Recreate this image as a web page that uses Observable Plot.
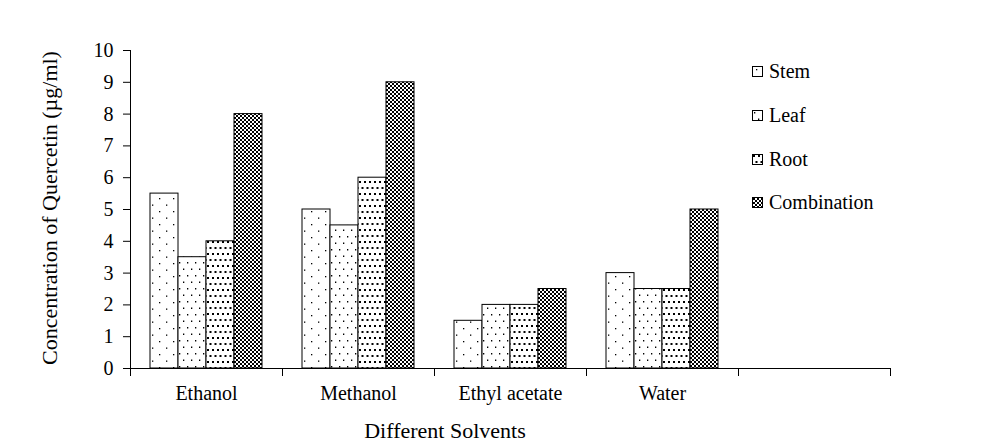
<!DOCTYPE html>
<html>
<head>
<meta charset="utf-8">
<script src="https://cdn.jsdelivr.net/npm/d3@7"></script>
<script src="https://cdn.jsdelivr.net/npm/@observablehq/plot@0.6"></script>
<style>
  html, body { margin: 0; padding: 0; background: #fff; }
  #wrap { position: relative; width: 987px; height: 447px; }
  .legend { position: absolute; left: 752px; top: 50px; font-family: "Liberation Serif", "Times New Roman", serif; font-size: 20px; color: #000; }
  .legend .item { display: flex; align-items: center; height: 43.7px; }
  .legend svg { margin-right: 5px; }
</style>
</head>
<body>
<div id="wrap"></div>
<script>
const solvents = ["Ethanol", "Methanol", "Ethyl acetate", "Water", " "];
const parts = ["Stem", "Leaf", "Root", "Combination"];
const stem = [5.5, 5.0, 1.5, 3.0];
const leaf = [3.5, 4.5, 2.0, 2.5];
const root = [4.0, 6.0, 2.0, 2.5];
const combination = [8.0, 9.0, 2.5, 5.0];
const yTicks = [0, 1, 2, 3, 4, 5, 6, 7, 8, 9, 10];
const yTitle = "Concentration of Quercetin (µg/ml)";
const xTitle = "Different Solvents";

const series = [stem, leaf, root, combination];
const data = [];
solvents.slice(0, 4).forEach((s, i) => {
  parts.forEach((p, j) => data.push({solvent: s, part: p, value: series[j][i]}));
});

const patternIds = ["pStem", "pLeaf", "pRoot", "pComb"];
const urls = patternIds.map(id => `url(#${id})`);
const serif = "'Liberation Serif', 'Times New Roman', serif";

const plot = Plot.plot({
  width: 987,
  height: 447,
  marginTop: 50,
  marginBottom: 79,
  marginLeft: 129,
  marginRight: 97,
  style: {fontFamily: serif, fontSize: "20px", color: "#000", background: "#fff"},
  fx: {domain: solvents, padding: 0, label: null},
  x: {domain: parts, paddingInner: 0, paddingOuter: 0.714, axis: null},
  y: {domain: [0, 10], ticks: yTicks, label: null},
  color: {type: "ordinal", domain: parts, range: urls},
  marks: [
    Plot.barY(data, {fx: "solvent", x: "part", y: "value", fill: "part", stroke: "#000", strokeWidth: 1}),
    // keeps the empty last category as a facet
    Plot.text(solvents, {fx: d => d, text: () => "", frameAnchor: "middle"}),
    Plot.frame({anchor: "bottom", stroke: "#000", strokeWidth: 1}),
    Plot.frame({anchor: "left", stroke: "#000", strokeWidth: 1, insetTop: 318, insetBottom: -7}),
    Plot.frame({anchor: "right", stroke: "#000", strokeWidth: 1, insetTop: 318, insetBottom: -7}),
    Plot.frame({anchor: "left", stroke: "#000", strokeWidth: 1, facetAnchor: "left"}),
    Plot.axisY({ticks: yTicks, tickSize: 7, tickPadding: 10, label: null, tickFormat: d => String(d)}),
    Plot.axisFx({anchor: "bottom", tickSize: 0, tickPadding: 17, label: null})
  ]
});

function addPatterns(svg) {
  const defs = d3.select(svg).insert("defs", ":first-child");
  // Stem: sparse dots
  let p = defs.append("pattern").attr("id", "pStem").attr("patternUnits", "userSpaceOnUse").attr("width", 14).attr("height", 13);
  p.append("rect").attr("width", 14).attr("height", 13).attr("fill", "#fff");
  p.append("rect").attr("x", 4).attr("y", 3).attr("width", 1.3).attr("height", 1.3).attr("fill", "#000");
  p.append("rect").attr("x", 11).attr("y", 9.5).attr("width", 1.3).attr("height", 1.3).attr("fill", "#000");
  // Leaf: medium dots
  p = defs.append("pattern").attr("id", "pLeaf").attr("patternUnits", "userSpaceOnUse").attr("width", 8).attr("height", 13);
  p.append("rect").attr("width", 8).attr("height", 13).attr("fill", "#fff");
  p.append("rect").attr("x", 2).attr("y", 2).attr("width", 1.3).attr("height", 1.5).attr("fill", "#000");
  p.append("rect").attr("x", 6).attr("y", 8.5).attr("width", 1.3).attr("height", 1.5).attr("fill", "#000");
  // Root: dense dots
  p = defs.append("pattern").attr("id", "pRoot").attr("patternUnits", "userSpaceOnUse").attr("width", 5).attr("height", 12);
  p.append("rect").attr("width", 5).attr("height", 12).attr("fill", "#fff");
  p.append("rect").attr("x", 1).attr("y", 1).attr("width", 2).attr("height", 2).attr("fill", "#000");
  p.append("rect").attr("x", 3.5).attr("y", 7).attr("width", 2).attr("height", 2).attr("fill", "#000");
  p.append("rect").attr("x", -1.5).attr("y", 7).attr("width", 2).attr("height", 2).attr("fill", "#000");
  // Combination: crosshatch
  p = defs.append("pattern").attr("id", "pComb").attr("patternUnits", "userSpaceOnUse").attr("width", 4).attr("height", 4);
  p.append("rect").attr("width", 4).attr("height", 4).attr("fill", "#fff");
  p.append("path").attr("d", "M0,0 L4,4 M4,0 L0,4").attr("stroke", "#000").attr("stroke-width", 1).attr("fill", "none");
}
addPatterns(plot);

const sel = d3.select(plot);
sel.append("text")
  .attr("transform", "translate(52,208) rotate(-90)")
  .attr("text-anchor", "middle").attr("dominant-baseline", "middle")
  .attr("font-family", serif).attr("font-size", 22).attr("fill", "#000")
  .text(yTitle);
sel.append("text")
  .attr("x", 445).attr("y", 433)
  .attr("text-anchor", "middle").attr("dominant-baseline", "middle")
  .attr("font-family", serif).attr("font-size", 22).attr("fill", "#000")
  .text(xTitle);

const wrap = document.getElementById("wrap");
wrap.appendChild(plot);

// Legend
const legend = d3.select(wrap).append("div").attr("class", "legend");
parts.forEach((p, i) => {
  const item = legend.append("div").attr("class", "item");
  const s = item.append("svg").attr("width", 12).attr("height", 11);
  s.append("rect").attr("x", 0.5).attr("y", 0.5).attr("width", 10).attr("height", 10)
    .attr("fill", urls[i]).attr("stroke", "#000").attr("stroke-width", 1);
  item.append("span").text(p);
});
</script>
</body>
</html>
